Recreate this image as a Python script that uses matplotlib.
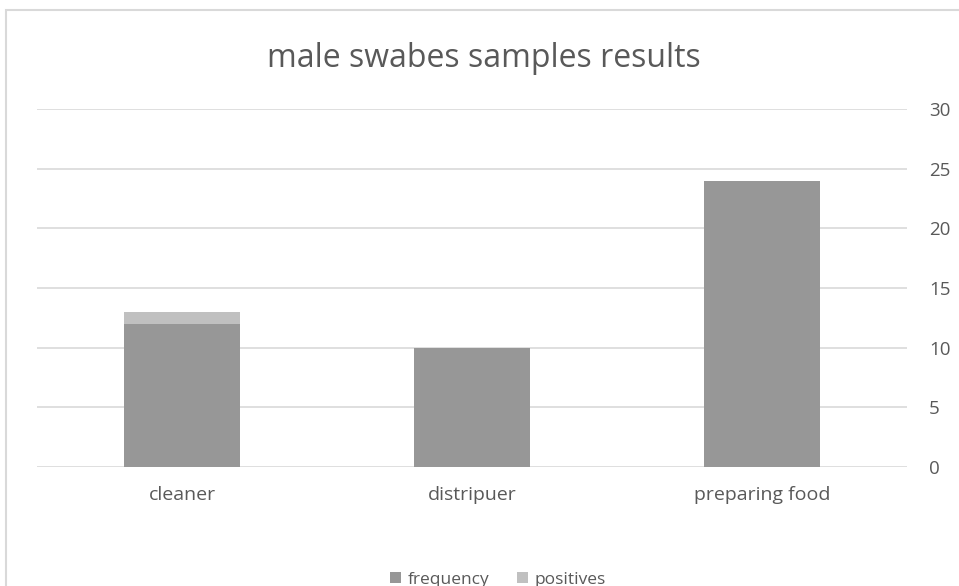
import matplotlib.pyplot as plt
from matplotlib.patches import Rectangle
import numpy as np

# swab counts per job category
categories = ['cleaner', 'distripuer', 'preparing food']
frequency = [12, 10, 24]
positives = [1, 0, 0]
yticks = [0, 5, 10, 15, 20, 25, 30]

plt.rcParams['font.family'] = ['Open Sans', 'DejaVu Sans']
text_color = '#595959'

fig = plt.figure(figsize=(9.59, 5.86), dpi=100)
ax = fig.add_axes([0.0386, 0.2031, 0.9072, 0.611])

x = np.arange(len(categories))
ax.bar(x, frequency, width=0.4, color='#979797', label='frequency', zorder=3)
ax.bar(x, positives, width=0.4, bottom=frequency, color='#c0c0c0', label='positives', zorder=3)

ax.set_xlim(-0.5, 2.5)
ax.set_ylim(0, 30)
ax.set_yticks(yticks)
ax.yaxis.tick_right()
ax.set_xticks(x)
ax.set_xticklabels(categories)
ax.tick_params(axis='both', length=0, labelsize=13.5, colors=text_color)
ax.tick_params(axis='x', labelsize=14)
ax.tick_params(axis='y', pad=16)
ax.tick_params(axis='x', pad=14)
ax.grid(axis='y', color='#d9d9d9', linewidth=1.2, zorder=0)
for s in ax.spines.values():
    s.set_visible(False)

fig.text(0.505, 0.9, 'male swabes samples results', ha='center', va='center',
         fontsize=23, color=text_color)

leg = ax.legend(loc='center', bbox_to_anchor=(0.53, -0.315), ncol=2, frameon=False,
                fontsize=12.5, handlelength=0.6, handleheight=0.6, handletextpad=0.4,
                columnspacing=1.6)
for t in leg.get_texts():
    t.set_color(text_color)

# outer chart frame
fig.patches.append(Rectangle((6 / 959, -0.01), 1.0, 1 - 10 / 586 + 0.01,
                             transform=fig.transFigure, fill=False,
                             edgecolor='#d9d9d9', linewidth=1.5))

fig.savefig('out.png', dpi=100, facecolor='white')
